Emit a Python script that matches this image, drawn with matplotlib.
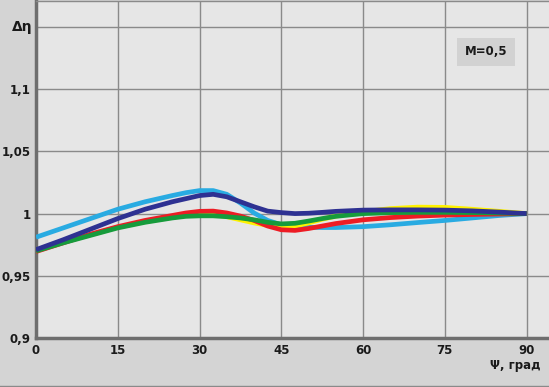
#!/usr/bin/env python

"""Delta eta vs Psi, M=0,5"""

import matplotlib
matplotlib.use('Agg')
import matplotlib.pyplot as plt
from matplotlib.lines import Line2D

# angle, degrees
psi = [0, 5, 10, 15, 20, 25, 27.5, 30, 32.5, 35, 37.5, 40, 42.5, 45,
       47.5, 50, 52.5, 55, 60, 65, 70, 75, 80, 85, 90]

light_blue = [0.981, 0.9885, 0.996, 1.0035, 1.0095, 1.0145, 1.0168, 1.0185,
              1.0185, 1.0155, 1.0085, 1.0005, 0.9945, 0.9910, 0.9897, 0.9890,
              0.9888, 0.9888, 0.9895, 0.991, 0.9928, 0.9945, 0.9965, 0.9985, 1.0]
yellow = [0.970, 0.977, 0.983, 0.989, 0.9935, 0.997, 0.9985, 0.9995, 0.9992,
          0.9975, 0.995, 0.9925, 0.9905, 0.9893, 0.990, 0.9925, 0.9955, 0.998,
          1.0015, 1.004, 1.0052, 1.005, 1.0035, 1.0018, 1.0]
red = [0.9695, 0.9765, 0.9835, 0.9895, 0.9945, 0.9985, 1.0005, 1.0018,
       1.002, 1.0005, 0.998, 0.9945, 0.990, 0.987, 0.9865, 0.988, 0.990,
       0.992, 0.995, 0.9968, 0.998, 0.9988, 0.9993, 0.9997, 1.0]
green = [0.970, 0.9765, 0.9825, 0.9885, 0.993, 0.9965, 0.9978, 0.9982,
         0.9982, 0.9975, 0.9965, 0.995, 0.993, 0.9917, 0.9922, 0.994,
         0.996, 0.9978, 1.0, 1.0008, 1.001, 1.001, 1.0008, 1.0005, 1.0]
navy = [0.971, 0.979, 0.9875, 0.996, 1.0035, 1.0095, 1.012, 1.0145, 1.0155,
        1.0135, 1.0095, 1.0055, 1.002, 1.0008, 1.0, 1.0003, 1.001, 1.0018,
        1.0028, 1.003, 1.003, 1.0028, 1.0022, 1.0012, 1.0]

xticks = [0, 15, 30, 45, 60, 75, 90]
yticks = [0.9, 0.95, 1.0, 1.05, 1.1, 1.15]
ylabels = ['0,9', '0,95', '1', '1,05', '1,1', '']

plt.rcParams['font.family'] = ['Liberation Sans Narrow', 'DejaVu Sans']

fig = plt.figure(figsize=(5.49, 3.87), dpi=100, facecolor='#d4d4d4')
ax = fig.add_axes([36 / 549, 49 / 387, 513 / 549, 337 / 387])
ax.set_facecolor('#e6e6e6')

series = [(light_blue, '#29abe2'), (yellow, '#fff200'), (red, '#ed1c24'),
          (green, '#169b3c'), (navy, '#2e3192')]
for vals, col in series:
    ax.plot(psi, vals, color=col, lw=3.4, solid_capstyle='butt', zorder=3)

ax.set_xlim(0, 94.1)
ax.set_ylim(0.9, 1.1709)
ax.set_xticks(xticks)
ax.set_xticklabels([str(i) for i in xticks])
ax.set_yticks(yticks)
ax.set_yticklabels(ylabels)
ax.grid(True, color='#8a8a8a', lw=1)
ax.set_axisbelow(True)
ax.tick_params(length=0, labelsize=8.5, colors='#1a1a1a', pad=4)
for lab in ax.get_xticklabels() + ax.get_yticklabels():
    lab.set_fontweight('bold')

for s in ['left', 'bottom']:
    ax.spines[s].set_color('#6e6e6e')
    ax.spines[s].set_linewidth(2.5)
ax.spines['top'].set_color('#8a8a8a')
ax.spines['top'].set_linewidth(1)
ax.spines['right'].set_visible(False)

ax.text(-0.006, 1.15, '\u0394\u03b7', transform=ax.get_yaxis_transform(),
        ha='right', va='center', fontsize=10, fontweight='bold', color='#1a1a1a')

ax.text(0.877, 0.849, 'M=0,5', transform=ax.transAxes, ha='center', va='center',
        fontsize=8.5, fontweight='bold', color='#1a1a1a',
        bbox=dict(boxstyle='square,pad=0.65', fc='#d2d2d2', ec='none'))

fig.text(541 / 549, 1 - 366 / 387, '\u03a8, \u0433\u0440\u0430\u0434', ha='right',
         va='center', fontsize=8.5, fontweight='bold', color='#1a1a1a')

# edge of the next panel below
fig.add_artist(Line2D([0, 1], [1.5 / 387, 1.5 / 387], color='#8a8a8a', lw=1,
                      transform=fig.transFigure))

fig.savefig('out.png', dpi=100, facecolor=fig.get_facecolor())
